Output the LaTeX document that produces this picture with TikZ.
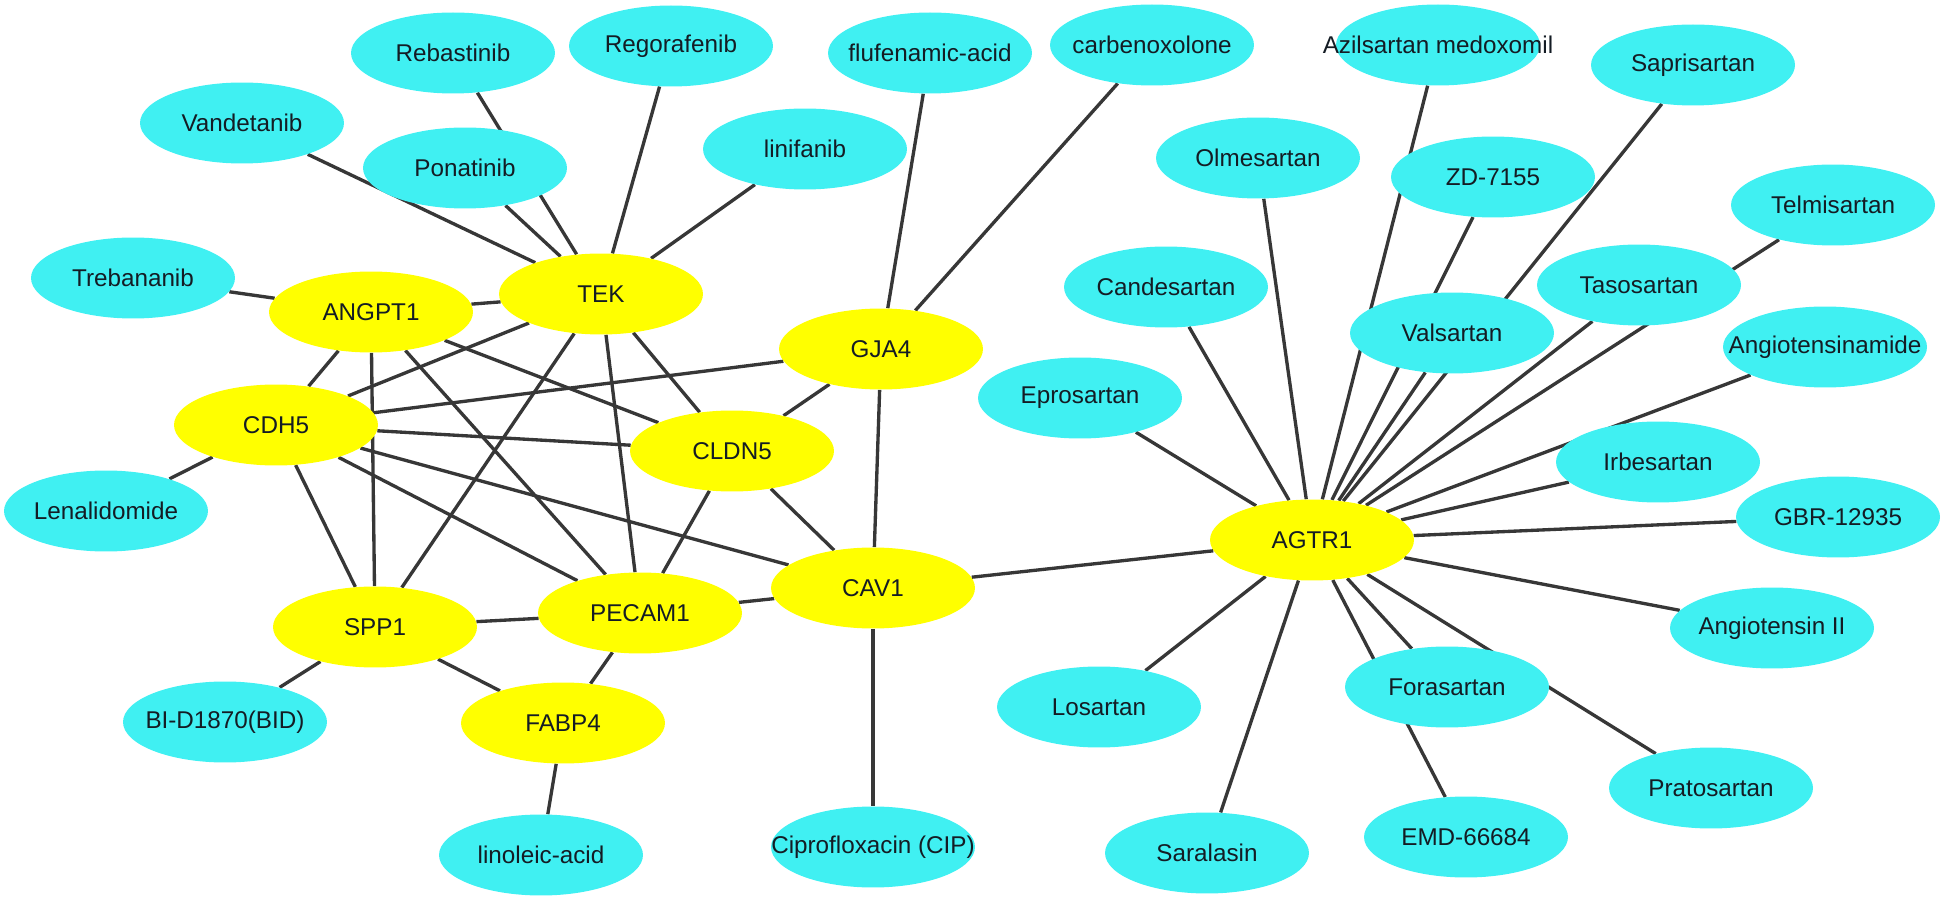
\documentclass[tikz,border=0pt]{standalone}
\usepackage{fontspec}
\setmainfont{Liberation Sans}
\usetikzlibrary{shapes.geometric, backgrounds}

\definecolor{drugcyan}{RGB}{64,240,242}
\definecolor{geneyellow}{RGB}{255,255,0}
\definecolor{edgegray}{RGB}{55,55,55}
\definecolor{labelink}{RGB}{20,28,36}

\tikzset{
  blob/.style={ellipse, minimum width=4.08cm, minimum height=1.62cm,
    inner xsep=-1.2cm, inner ysep=0pt, text=labelink,
    font=\fontsize{13.8}{16}\selectfont},
  drug/.style={blob, fill=drugcyan},
  gene/.style={blob, fill=geneyellow},
  link/.style={draw=edgegray, line width=1.9pt}
}

\begin{document}
\begin{tikzpicture}[x=0.02cm, y=-0.02cm]
\useasboundingbox (0,0) rectangle (1946,901);

% genes
\node[gene] (angpt) at (371,312) {ANGPT1};
\node[gene] (tek)   at (601,294) {TEK};
\node[gene] (gja)   at (881,349) {GJA4};
\node[gene] (cdh)   at (276,425) {CDH5};
\node[gene] (cldn)  at (732,451) {CLDN5};
\node[gene] (cav)   at (873,588) {CAV1};
\node[gene] (spp)   at (375,627) {SPP1};
\node[gene] (pecam) at (640,613) {PECAM1};
\node[gene] (fabp)  at (563,723) {FABP4};
\node[gene] (agtr)  at (1312,540) {AGTR1};

% drugs, left part
\node[drug] (rebas) at (453,53)  {Rebastinib};
\node[drug] (regor) at (671,46)  {Regorafenib};
\node[drug] (flufe) at (930,53)  {flufenamic-acid};
\node[drug] (carbe) at (1152,45) {carbenoxolone};
\node[drug] (vande) at (242,123) {Vandetanib};
\node[drug] (ponat) at (465,168) {Ponatinib};
\node[drug] (linif) at (805,149) {linifanib};
\node[drug] (treba) at (133,278) {Trebananib};
\node[drug] (lenal) at (106,511) {Lenalidomide};
\node[drug] (bid)   at (225,722) {BI-D1870(BID)};
\node[drug] (linol) at (541,855) {linoleic-acid};
\node[drug] (cipro) at (873,847) {Ciprofloxacin (CIP)};

% drugs, right part
\node[drug] (azil)  at (1438,45)  {Azilsartan medoxomil};
\node[drug] (sapri) at (1693,65)  {Saprisartan};
\node[drug] (olmes) at (1258,158) {Olmesartan};
\node[drug] (zd)    at (1493,177) {ZD-7155};
\node[drug] (telmi) at (1833,205) {Telmisartan};
\node[drug] (cande) at (1166,287) {Candesartan};
\node[drug] (tasos) at (1639,285) {Tasosartan};
\node[drug] (valsa) at (1452,333) {Valsartan};
\node[drug] (angam) at (1825,347) {Angiotensinamide};
\node[drug] (epros) at (1080,398) {Eprosartan};
\node[drug] (irbes) at (1658,462) {Irbesartan};
\node[drug] (gbr)   at (1838,517) {GBR-12935};
\node[drug] (ang2)  at (1772,628) {Angiotensin II};
\node[drug] (foras) at (1447,687) {Forasartan};
\node[drug] (losar) at (1099,707) {Losartan};
\node[drug] (prato) at (1711,788) {Pratosartan};
\node[drug] (emd)   at (1466,837) {EMD-66684};
\node[drug] (saral) at (1207,853) {Saralasin};

\begin{scope}[on background layer]
\foreach \a in {rebas,regor,vande,ponat,linif,angpt,cdh,spp,pecam,cldn}
  \draw[link] (tek) -- (\a);
\foreach \a in {treba,cdh,spp,pecam,cldn}
  \draw[link] (angpt) -- (\a);
\foreach \a in {lenal,gja,cldn,cav,spp,pecam}
  \draw[link] (cdh) -- (\a);
\foreach \a in {flufe,carbe,cldn,cav}
  \draw[link] (gja) -- (\a);
\foreach \a/\b in {cldn/pecam,cldn/cav,cav/pecam,cav/agtr,cav/cipro,
                   spp/pecam,spp/bid,spp/fabp,pecam/fabp,fabp/linol}
  \draw[link] (\a) -- (\b);
\foreach \a in {epros,cande,olmes,azil,zd,sapri,valsa,tasos,telmi,angam,
                irbes,gbr,ang2,prato,foras,emd,saral,losar}
  \draw[link] (agtr) -- (\a);
\end{scope}

\end{tikzpicture}
\end{document}
